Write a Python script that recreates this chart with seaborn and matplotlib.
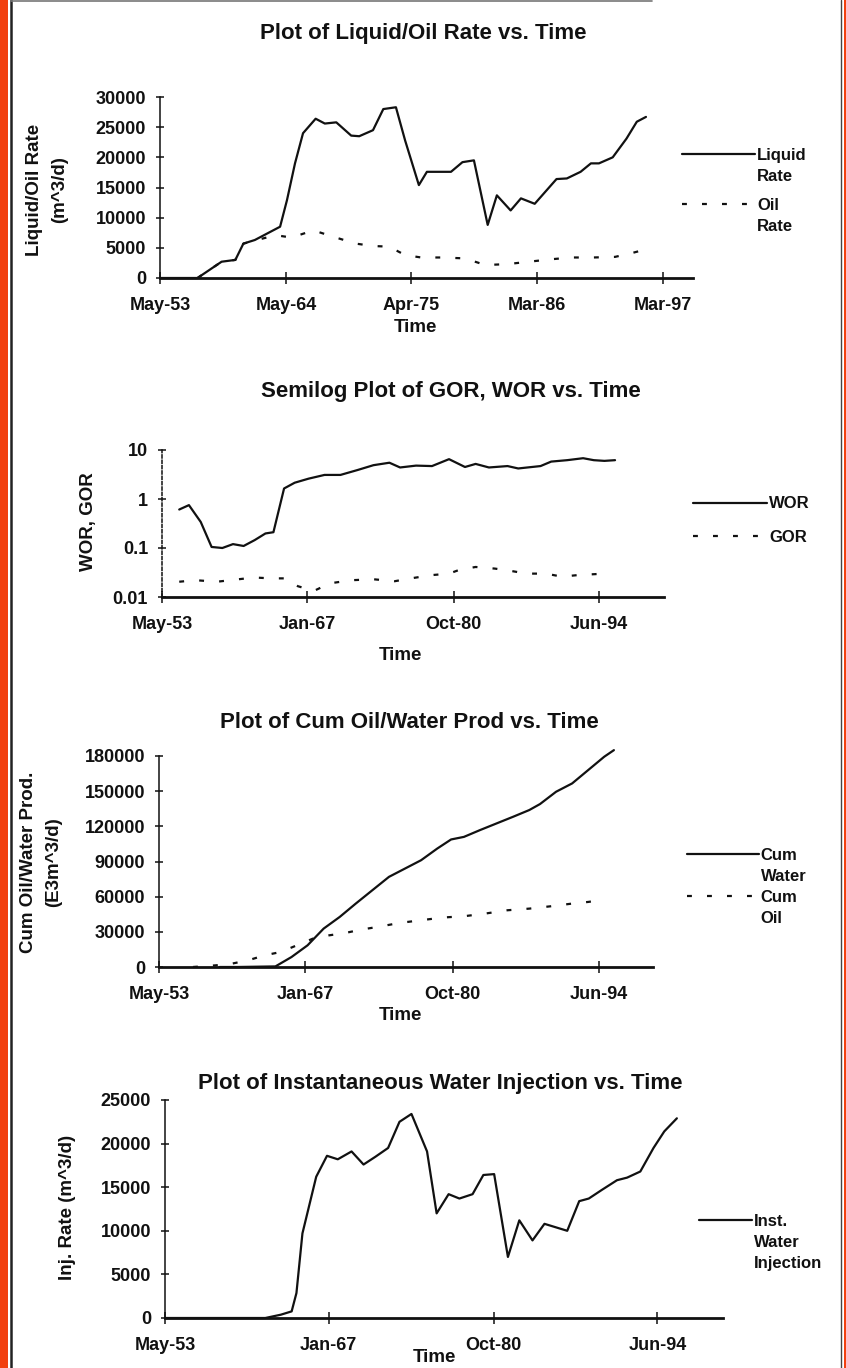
import matplotlib
matplotlib.use("Agg")
import matplotlib.pyplot as plt
from matplotlib.lines import Line2D
from matplotlib.legend import Legend
from matplotlib.patches import Rectangle
from matplotlib.ticker import NullLocator
import seaborn as sns

# ---------------- data (decimal years) ----------------
# Panel 1: Liquid / Oil rate (m^3/d)
liq_year = [1953.33, 1956.6, 1958.7, 1959.9, 1960.6, 1961.6, 1962.7, 1963.8, 1964.4, 1965.1,
            1965.8, 1966.9, 1967.7, 1968.7, 1970.0, 1970.7, 1971.9, 1972.8, 1973.9, 1974.7,
            1975.9, 1976.6, 1978.7, 1979.7, 1980.7, 1981.9, 1982.7, 1983.9, 1984.8, 1986.0,
            1987.9, 1988.8, 1990.0, 1990.9, 1991.6, 1992.8, 1994.0, 1994.9, 1995.7]
liq_rate = [0, 0, 2700, 3000, 5700, 6300, 7400, 8500, 12900, 19000,
            24000, 26400, 25600, 25800, 23600, 23500, 24500, 28000, 28300, 22800,
            15400, 17600, 17600, 19200, 19500, 8800, 13700, 11200, 13200, 12300,
            16400, 16500, 17600, 19000, 19000, 20000, 23100, 25900, 26700]
oil_year = [1956.6, 1958.7, 1959.9, 1960.6, 1962.0, 1963.4, 1964.8, 1966.7, 1968.5, 1970.4,
            1971.9, 1973.3, 1974.7, 1976.1, 1978.0, 1979.9, 1981.7, 1983.6, 1985.5, 1987.4,
            1989.2, 1991.1, 1993.0, 1994.4, 1995.6]
oil_rate = [0, 2700, 3000, 5700, 6400, 7100, 6700, 7900, 6800, 5700,
            5300, 5200, 3800, 3400, 3400, 3250, 2150, 2300, 2700, 3100,
            3400, 3400, 3500, 4100, 4700]

# Panel 2: WOR / GOR (semilog)
wor_year = [1954.95, 1955.86, 1956.97, 1957.99, 1959.0, 1960.0, 1961.0, 1962.04, 1963.05, 1963.8,
            1964.8, 1965.8, 1967.1, 1968.6, 1970.1, 1971.7, 1973.2, 1974.7, 1975.7, 1977.2,
            1978.7, 1980.3, 1981.8, 1982.8, 1984.05, 1985.8, 1986.8, 1988.9, 1989.9, 1991.4,
            1992.9, 1993.9, 1994.9, 1995.9]
wor = [0.61, 0.75, 0.34, 0.105, 0.10, 0.12, 0.11, 0.145, 0.198, 0.21,
       1.64, 2.15, 2.6, 3.1, 3.1, 3.9, 4.9, 5.5, 4.4, 4.8,
       4.7, 6.5, 4.5, 5.2, 4.4, 4.7, 4.2, 4.7, 5.8, 6.2,
       6.8, 6.2, 6.0, 6.2]
gor_year = [1954.95, 1956.5, 1958.5, 1960.5, 1962.0, 1963.55, 1964.8, 1966.1, 1967.6, 1969.1,
            1971.1, 1973.2, 1975.2, 1976.7, 1978.7, 1980.3, 1981.3, 1982.8, 1984.6, 1985.8,
            1987.6, 1989.4, 1990.9, 1992.4, 1994.9]
gor = [0.0205, 0.022, 0.0205, 0.023, 0.025, 0.024, 0.024, 0.0166, 0.0133, 0.019,
       0.022, 0.023, 0.021, 0.024, 0.028, 0.030, 0.036, 0.041, 0.038, 0.035,
       0.030, 0.030, 0.026, 0.028, 0.030]

# Panel 3: cumulative production
cw_year = [1959.0, 1960.6, 1964.2, 1965.7, 1967.2, 1968.7, 1970.2, 1971.7, 1973.25, 1974.8,
           1976.3, 1977.8, 1979.3, 1980.6, 1981.8, 1983.3, 1984.85, 1986.4, 1987.9, 1988.9,
           1990.4, 1991.9, 1993.4, 1994.9, 1995.8]
cum_water = [0, 0, 500, 8500, 18500, 32750, 42700, 54100, 65500, 76900,
             84000, 91100, 101000, 108800, 111000, 116800, 122500, 128200, 133900, 139000,
             149500, 156600, 168000, 179400, 185000]
co_year = [1956.5, 1958.6, 1960.1, 1961.65, 1963.2, 1964.7, 1966.2, 1967.7, 1969.2, 1970.7,
           1972.2, 1973.75, 1975.8, 1977.8, 1979.8, 1981.8, 1983.8, 1985.85, 1987.9, 1989.9,
           1991.9, 1993.4, 1994.9]
cum_oil = [0, 1400, 2800, 5700, 10000, 12800, 18500, 24200, 27000, 29000,
           31900, 34200, 37600, 39900, 42200, 43300, 45600, 48400, 49800, 51800,
           54100, 55500, 57500]

# Panel 4: instantaneous water injection
inj_year = [1953.33, 1961.7, 1963.0, 1963.9, 1964.3, 1964.8, 1965.95, 1966.85, 1967.75, 1968.9,
            1969.9, 1970.9, 1971.95, 1972.9, 1973.9, 1975.2, 1976.0, 1977.0, 1977.9, 1979.0,
            1979.9, 1980.8, 1981.95, 1982.9, 1984.0, 1985.0, 1986.9, 1987.9, 1988.7, 1989.8,
            1991.05, 1991.9, 1993.0, 1994.1, 1995.0, 1996.05]
inj_rate = [0, 0, 380, 760, 2860, 9700, 16200, 18600, 18200, 19100,
            17600, 18500, 19500, 22500, 23400, 19100, 12000, 14200, 13700, 14200,
            16400, 16500, 7000, 11200, 8900, 10800, 10000, 13400, 13700, 14700,
            15800, 16100, 16800, 19500, 21400, 22900]

# tick labels
ticks1_pos = [1953.33, 1964.33, 1975.25, 1986.17, 1997.17]
ticks1_lab = ["May-53", "May-64", "Apr-75", "Mar-86", "Mar-97"]
ticks2_pos = [1953.33, 1967.0, 1980.75, 1994.42]
ticks2_lab = ["May-53", "Jan-67", "Oct-80", "Jun-94"]

# ---------------- style ----------------
sns.set_theme(style="white")
FONTS = ["Liberation Sans", "DejaVu Sans"]
plt.rcParams["font.family"] = FONTS
INK = "#111111"

W, H = 846, 1368
fig = plt.figure(figsize=(W / 100, H / 100), dpi=100)
fig.patch.set_facecolor("white")

TICK_FS = 13
LEG_FS = 12
LAB_FS = 13.5
TITLE_FS = 16
DASH = (0, (2.2, 6.8))


def make_ax(left, right, top, bottom):
    return fig.add_axes([left / W, 1 - bottom / H, (right - left) / W, (bottom - top) / H])


def style_ax(ax):
    ax.set_facecolor("none")
    for s in ("top", "right"):
        ax.spines[s].set_visible(False)
    ax.spines["bottom"].set_linewidth(2.0)
    ax.spines["bottom"].set_color(INK)
    ax.spines["left"].set_linewidth(1.1)
    ax.spines["left"].set_color(INK)
    ax.spines["bottom"].set_zorder(5)
    ax.tick_params(axis="x", direction="inout", length=8, width=1.1, pad=10,
                   labelsize=TICK_FS, colors=INK, bottom=True)
    ax.tick_params(axis="y", direction="inout", length=6, width=1.1, pad=7,
                   labelsize=TICK_FS, colors=INK, left=True)
    for t in ax.get_xticklabels() + ax.get_yticklabels():
        t.set_fontweight("bold")
    for ln in ax.lines:
        ln.set_clip_on(False)
    ax.grid(False)


def set_labels(ax, left, right, top, bottom, xl, xl_px, yl, yl_px, lsp=1.2):
    w = right - left
    h = bottom - top
    ax.set_xlabel(xl, fontsize=LAB_FS, fontweight="bold", color=INK)
    ax.xaxis.label.set_va("center")
    ax.xaxis.set_label_coords((xl_px[0] - left) / w, (bottom - xl_px[1]) / h)
    ax.set_ylabel(yl, fontsize=LAB_FS, fontweight="bold", color=INK, linespacing=lsp)
    ax.yaxis.label.set_va("center")
    ax.yaxis.label.set_ha("center")
    ax.yaxis.set_label_coords((yl_px[0] - left) / w, (bottom - yl_px[1]) / h)


def add_entry(ax, handle, lines, x_px, y_px, hl, row_px=25.5):
    handles = [handle] + [Line2D([], [], color="none") for _ in lines[1:]]
    yc = y_px + (len(lines) - 1) * row_px / 2
    leg = Legend(ax, handles, lines, loc="center left",
                 bbox_to_anchor=(x_px / W, 1 - yc / H), bbox_transform=fig.transFigure,
                 frameon=False, borderpad=0, borderaxespad=0, handlelength=hl,
                 handletextpad=0.12, labelspacing=0.36,
                 prop={"size": LEG_FS, "family": FONTS, "weight": "bold"})
    for t in leg.get_texts():
        t.set_color(INK)
    ax.add_artist(leg)


def title(text, x_px, y_px):
    fig.text(x_px / W, 1 - y_px / H, text, ha="center", va="center",
             fontsize=TITLE_FS, fontweight="bold", color=INK)


# ---------------- Panel 1 ----------------
L, R, T, B = 160, 693, 97, 278
ax1 = make_ax(L, R, T, B)
sns.lineplot(x=liq_year, y=liq_rate, ax=ax1, color=INK, lw=1.6)
h_liq = ax1.lines[-1]
sns.lineplot(x=oil_year, y=oil_rate, ax=ax1, color=INK, lw=1.6, linestyle=DASH)
h_oil = ax1.lines[-1]
ax1.set_xlim(1953.33, 1999.8)
ax1.set_ylim(0, 30000)
ax1.set_yticks([0, 5000, 10000, 15000, 20000, 25000, 30000])
ax1.set_yticklabels(["0", "5000", "10000", "15000", "20000", "25000", "30000"])
ax1.set_xticks(ticks1_pos)
ax1.set_xticklabels(ticks1_lab)
style_ax(ax1)
set_labels(ax1, L, R, T, B, "Time", (415, 327), "Liquid/Oil Rate\n(m^3/d)", (47, 190), lsp=1.6)
title("Plot of Liquid/Oil Rate vs. Time", 423, 33)
add_entry(ax1, h_liq, ["Liquid", "Rate"], 682, 153, 4.4)
add_entry(ax1, h_oil, ["Oil", "Rate"], 682, 203, 4.4)

# ---------------- Panel 2 ----------------
L, R, T, B = 162, 664, 450, 597
ax2 = make_ax(L, R, T, B)
sns.lineplot(x=wor_year, y=wor, ax=ax2, color=INK, lw=1.6)
h_wor = ax2.lines[-1]
sns.lineplot(x=gor_year, y=gor, ax=ax2, color=INK, lw=1.6, linestyle=DASH)
h_gor = ax2.lines[-1]
ax2.set_yscale("log")
ax2.set_xlim(1953.33, 2000.5)
ax2.set_ylim(0.01, 10)
ax2.set_yticks([0.01, 0.1, 1, 10])
ax2.set_yticklabels(["0.01", "0.1", "1", "10"])
ax2.yaxis.set_minor_locator(NullLocator())
ax2.set_xticks(ticks2_pos)
ax2.set_xticklabels(ticks2_lab)
style_ax(ax2)
ax2.spines["left"].set_linestyle((0, (2, 1.5)))
set_labels(ax2, L, R, T, B, "Time", (400, 656), "WOR, GOR", (89, 522))
title("Semilog Plot of GOR, WOR vs. Time", 451, 392)
add_entry(ax2, h_wor, ["WOR"], 693, 504, 4.45)
add_entry(ax2, h_gor, ["GOR"], 693, 537, 4.45)

# ---------------- Panel 3 ----------------
L, R, T, B = 159, 653, 756, 967
ax3 = make_ax(L, R, T, B)
sns.lineplot(x=cw_year, y=cum_water, ax=ax3, color=INK, lw=1.6)
h_cw = ax3.lines[-1]
sns.lineplot(x=co_year, y=cum_oil, ax=ax3, color=INK, lw=1.6, linestyle=DASH)
h_co = ax3.lines[-1]
ax3.set_xlim(1953.33, 1999.45)
ax3.set_ylim(0, 180000)
ax3.set_yticks([0, 30000, 60000, 90000, 120000, 150000, 180000])
ax3.set_yticklabels(["0", "30000", "60000", "90000", "120000", "150000", "180000"])
ax3.set_xticks(ticks2_pos)
ax3.set_xticklabels(ticks2_lab)
style_ax(ax3)
set_labels(ax3, L, R, T, B, "Time", (400, 1016), "Cum Oil/Water Prod.\n(E3m^3/d)", (41, 862), lsp=1.6)
title("Plot of Cum Oil/Water Prod vs. Time", 409, 723)
add_entry(ax3, h_cw, ["Cum", "Water"], 687, 853, 4.3)
add_entry(ax3, h_co, ["Cum", "Oil"], 687, 895, 4.3)

# ---------------- Panel 4 ----------------
L, R, T, B = 165, 723, 1100, 1318
ax4 = make_ax(L, R, T, B)
sns.lineplot(x=inj_year, y=inj_rate, ax=ax4, color=INK, lw=1.6)
h_inj = ax4.lines[-1]
ax4.set_xlim(1953.33, 1999.9)
ax4.set_ylim(0, 25000)
ax4.set_yticks([0, 5000, 10000, 15000, 20000, 25000])
ax4.set_yticklabels(["0", "5000", "10000", "15000", "20000", "25000"])
ax4.set_xticks(ticks2_pos)
ax4.set_xticklabels(ticks2_lab)
style_ax(ax4)
set_labels(ax4, L, R, T, B, "Time", (434, 1358), "Inj. Rate (m^3/d)", (67, 1207))
title("Plot of Instantaneous Water Injection vs. Time", 440, 1083)
add_entry(ax4, h_inj, ["Inst.", "Water", "Injection"], 699, 1217, 3.2)

# ---------------- page border (scan frame) ----------------
fig.add_artist(Rectangle((0, 0), 8 / W, 1, transform=fig.transFigure,
                         facecolor="#f2400f", edgecolor="none"))
fig.add_artist(Line2D([11 / W, 11 / W], [0, 1], transform=fig.transFigure, color="#222", lw=1.8))
fig.add_artist(Line2D([841 / W, 841 / W], [0, 1], transform=fig.transFigure, color="#444", lw=1.0))
fig.add_artist(Rectangle((843.5 / W, 0), 2.5 / W, 1, transform=fig.transFigure,
                         facecolor="#f2400f", edgecolor="none"))
fig.add_artist(Line2D([11 / W, 652 / W], [1 - 1 / H, 1 - 1 / H], transform=fig.transFigure,
                      color="#777", lw=1.2))

fig.savefig("out.png", dpi=100, facecolor="white")
